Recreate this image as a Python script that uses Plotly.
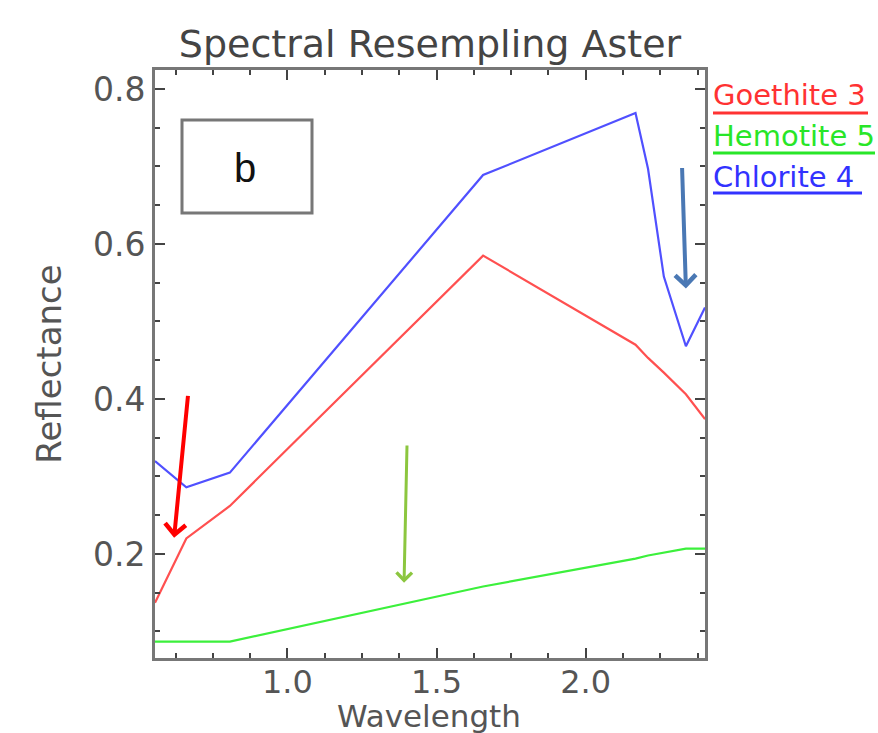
import plotly.graph_objects as go

# ASTER band centres (micrometres)
wavelength = [0.556, 0.661, 0.807, 1.656, 2.167, 2.209, 2.262, 2.336, 2.400]

goethite = [0.137, 0.220, 0.262, 0.585, 0.470, 0.453, 0.434, 0.406, 0.374]
hematite = [0.087, 0.087, 0.087, 0.158, 0.194, 0.198, 0.202, 0.207, 0.207]
chlorite = [0.320, 0.286, 0.305, 0.689, 0.769, 0.697, 0.558, 0.468, 0.518]

series_names = ["Goethite 3", "Hemotite 5", "Chlorite 4"]
series_values = [goethite, hematite, chlorite]
line_colors = ["rgb(255,80,80)", "rgb(60,240,60)", "rgb(80,80,255)"]
text_colors = ["rgb(255,50,50)", "rgb(40,230,40)", "rgb(50,50,255)"]

x_ticks = [1.0, 1.5, 2.0]
y_ticks = [0.2, 0.4, 0.6, 0.8]

W, H = 878, 733
L, R, T, B = 155, 705, 70, 658


def px_x(p):
    return (p - L) / (R - L)


def px_y(p):
    return (B - p) / (B - T)


fig = go.Figure()
for name, vals, col in zip(series_names, series_values, line_colors):
    fig.add_trace(go.Scatter(x=wavelength, y=vals, mode="lines", name=name,
                             line=dict(color=col, width=2.2), showlegend=False))

FONT = "DejaVu Sans"
frame = "#777777"

fig.update_layout(
    width=W, height=H,
    margin=dict(l=L, r=W - R, t=T, b=H - B, autoexpand=False),
    paper_bgcolor="white", plot_bgcolor="white",
    title=dict(text="Spectral Resempling Aster", x=430 / W, xref="container",
               y=1 - 44 / H, yref="container", xanchor="center", yanchor="middle",
               font=dict(family=FONT, size=38, color="#444")),
    font=dict(family=FONT, color="#555"),
)

fig.update_xaxes(
    range=[wavelength[0], wavelength[-1]], automargin=False,
    tickmode="array", tickvals=x_ticks, ticktext=[f"{v:.1f}" for v in x_ticks],
    ticks="inside", ticklen=10, tickwidth=2, tickcolor="#444",
    showline=True, linecolor=frame, linewidth=3, mirror="ticks",
    showgrid=False, zeroline=False,
    minor=dict(ticks="inside", ticklen=5, tickwidth=2, tickcolor="#444",
               dtick=0.125, tick0=0.0, showgrid=False),
    tickfont=dict(family=FONT, size=32, color="#555"),
    ticklabelstandoff=-6,
)
fig.update_yaxes(
    range=[0.0658, 0.8245], automargin=False,
    tickmode="array", tickvals=y_ticks, ticktext=[f"{v:.1f}" for v in y_ticks],
    ticks="inside", ticklen=10, tickwidth=2, tickcolor="#444",
    showline=True, linecolor=frame, linewidth=3, mirror="ticks",
    showgrid=False, zeroline=False,
    minor=dict(ticks="inside", ticklen=5, tickwidth=2, tickcolor="#444",
               dtick=0.05, tick0=0.0, showgrid=False),
    tickfont=dict(family=FONT, size=33, color="#555"),
    title=dict(text="Reflectance", font=dict(family=FONT, size=34, color="#555"),
               standoff=22),
)

# x-axis title placed as text under the tick labels
fig.add_annotation(text="Wavelength", x=px_x(429), y=px_y(716), xref="paper", yref="paper",
                   xanchor="center", yanchor="middle", showarrow=False,
                   font=dict(family=FONT, size=31, color="#555"))

# legend as coloured, underlined text
legend_y = [95, 136, 177]
underline_y = [113, 153, 193]
underline_x1 = [868, 875, 862]
for name, col, ly, uy, ux in zip(series_names, text_colors, legend_y, underline_y, underline_x1):
    fig.add_annotation(text=name, x=px_x(711), y=px_y(ly), xref="paper", yref="paper",
                       xanchor="left", yanchor="middle", showarrow=False,
                       font=dict(family=FONT, size=29, color=col))
    fig.add_shape(type="line", xref="paper", yref="paper",
                  x0=px_x(713), x1=px_x(ux), y0=px_y(uy), y1=px_y(uy),
                  line=dict(color=col, width=3))

# "b" panel label box
fig.add_shape(type="rect", xref="paper", yref="paper",
              x0=px_x(182), x1=px_x(312), y0=px_y(213), y1=px_y(120),
              line=dict(color="#777", width=3), fillcolor="rgba(0,0,0,0)")
fig.add_annotation(text="b", x=px_x(245), y=px_y(168), xref="paper", yref="paper",
                   showarrow=False, xanchor="center", yanchor="middle",
                   font=dict(family="Liberation Sans", size=40, color="#111"))

# arrows
arrows = [
    dict(tip=(0.620, 0.221), tail=(0.667, 0.406), color="#ff0000", width=4),
    dict(tip=(1.391, 0.163), tail=(1.401, 0.342), color="#8cc63f", width=3),
    dict(tip=(2.336, 0.5425), tail=(2.323, 0.700), color="#4a78b4", width=4),
]
for a in arrows:
    fig.add_annotation(x=a["tip"][0], y=a["tip"][1], ax=a["tail"][0], ay=a["tail"][1],
                       xref="x", yref="y", axref="x", ayref="y", text="",
                       showarrow=True, arrowhead=4, arrowsize=1,
                       arrowwidth=a["width"], arrowcolor=a["color"], standoff=0)

fig.write_html("out.html", config={"displayModeBar": False},
               post_script="document.body.style.margin='0';document.body.style.overflow='hidden';")
